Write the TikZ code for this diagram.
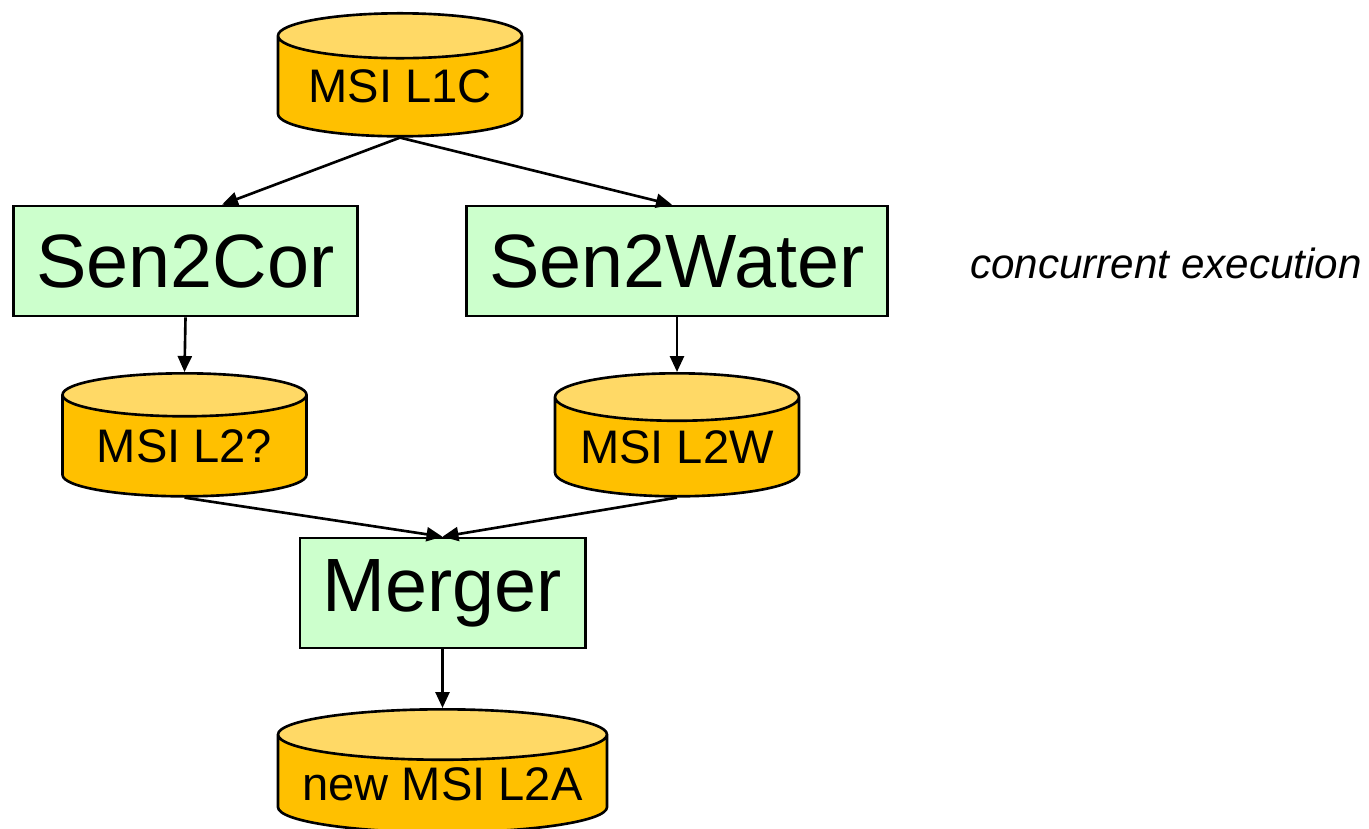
\documentclass[tikz,border=0pt]{standalone}
\usepackage{fontspec}
\setmainfont{Liberation Sans}
\usetikzlibrary{shapes.geometric,arrows.meta}
\definecolor{dbbody}{HTML}{FFC000}
\definecolor{dbtop}{HTML}{FFD966}
\definecolor{procfill}{HTML}{CCFFCC}
\begin{document}
\begin{tikzpicture}[line width=0.75pt,>={Triangle[length=1.6mm,width=1.4mm]},
database/.style={cylinder, shape border rotate=90, aspect=0.245, draw, cylinder uses custom fill, cylinder body fill=dbbody, cylinder end fill=dbtop, minimum width=2.44cm, minimum height=1.23cm, inner sep=0pt, anchor=north, font=\fontsize{13.4}{16}\selectfont},
process/.style={rectangle, draw, fill=procfill, minimum height=1.10cm, inner xsep=0.23cm, inner ysep=0pt, font=\fontsize{21.5}{26}\selectfont}]
\useasboundingbox (0,0) rectangle (13.69,-8.29);
\node [database] (l1c) at (4.00,-0.12) {MSI L1C};
\node [process] (sencor) at (1.855,-2.61) {Sen2Cor};
\node [process] (senwat) at (6.77,-2.61) {Sen2Water};
\node [font=\fontsize{12}{14}\selectfont\itshape] (conc) at (11.66,-2.63) {concurrent execution};
\node [database] (l2q) at (1.845,-3.72) {MSI L2?};
\node [database] (l2w) at (6.77,-3.72) {MSI L2W};
\node [process] (merger) at (4.425,-5.93) {Merger};
\node [database, minimum width=3.29cm, aspect=0.18] (l2a) at (4.425,-7.08) {new MSI L2A};
\draw [->] (l1c.south) -- ([xshift=0.365cm]sencor.north);
\draw [->] (l1c.south) -- ([xshift=-0.05cm]senwat.north);
\draw [->] (sencor.south) -- (l2q.north);
\draw [->] (senwat.south) -- (l2w.north);
\draw [->] (l2q.south) -- (merger.north);
\draw [->] (l2w.south) -- (merger.north);
\draw [->] (merger.south) -- (l2a.north);
\end{tikzpicture}
\end{document}
